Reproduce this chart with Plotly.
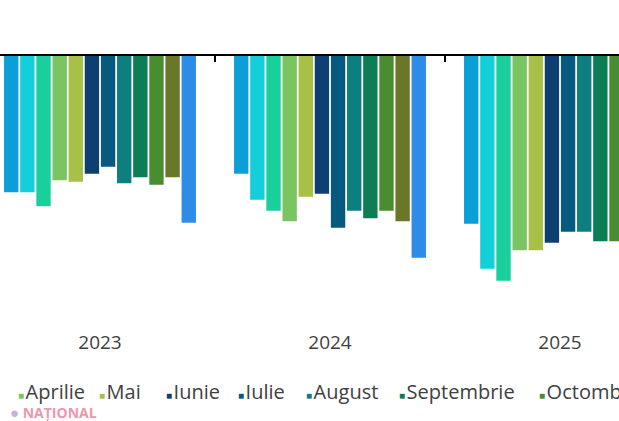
import plotly.graph_objects as go

years = ["2023", "2024", "2025"]
months = ["Ianuarie", "Februarie", "Martie", "Aprilie", "Mai", "Iunie", "Iulie",
          "August", "Septembrie", "Octombrie", "Noiembrie", "Decembrie"]
colors = ["#0a9fd6", "#12cfd9", "#19cf9b", "#7ac462", "#a8bf48", "#0d3f72",
          "#065a7f", "#0d7f80", "#0c7d55", "#4a8c30", "#6a7628", "#2d8ce8"]

# monthly values per year (no data yet for Nov/Dec 2025)
val_2023 = [-409, -409, -451, -373, -377, -353, -332, -382, -364, -386, -364, -500]
val_2024 = [-353, -431, -464, -496, -422, -413, -515, -464, -487, -464, -496, -605]
val_2025 = [-503, -638, -674, -583, -583, -560, -527, -527, -556, -556, None, None]

# the picture is a crop of a wider chart: only these legend entries are in view
legend_months = months[3:10]
legend_px = [16, 97, 164, 236, 304, 397, 537]

W, H = 619, 421

fig = go.Figure()
for i, month in enumerate(months):
    fig.add_trace(go.Bar(
        x=years,
        y=[val_2023[i], val_2024[i], val_2025[i]],
        name=month,
        marker_color=colors[i],
        marker_line_width=0,
        showlegend=False,
    ))

# empty trace on the top axis, which carries the zero line and the group ticks
fig.add_trace(go.Scatter(x=years, y=[None] * len(years), xaxis="x2",
                         mode="none", showlegend=False, hoverinfo="skip"))

fig.update_layout(
    width=W, height=H,
    margin=dict(l=0, r=0, t=56, b=95, autoexpand=False),
    barmode="group", bargap=0.158, bargroupgap=0.11,
    plot_bgcolor="white", paper_bgcolor="white",
    font=dict(family="Open Sans", size=19, color="#404040"),
    xaxis=dict(range=[-100 / 230, 519 / 230], showgrid=False, ticks="",
               showline=False, zeroline=False, ticklabelstandoff=3),
    xaxis2=dict(overlaying="x", matches="x", side="top", anchor="y",
                showline=True, linecolor="black", linewidth=1.5,
                ticks="inside", tickson="boundaries", ticklen=6,
                tickcolor="black", tickwidth=1.5,
                showticklabels=False, showgrid=False),
    yaxis=dict(range=[-810, 0], visible=False),
)

for month, px in zip(legend_months, legend_px):
    c = colors[months.index(month)]
    fig.add_annotation(
        text=f"<span style='color:{c};font-size:10px'>■</span>"
             f"<span style='font-size:6px'> </span>{month}",
        x=px / W, y=-0.244, xref="paper", yref="paper",
        xanchor="left", yanchor="middle", showarrow=False,
        font=dict(size=20, color="#404040"),
    )

fig.add_annotation(
    text="<span style='color:#c3b2d6;font-size:15px'>●</span> <b>NAȚIONAL</b>",
    x=8 / W, y=-0.318, xref="paper", yref="paper",
    xanchor="left", yanchor="middle", showarrow=False,
    font=dict(family="Open Sans", size=14, color="#ec97ae"),
)

# drop the page's default body margin so the figure sits at the window corner
fig.write_html("out.html", config={"displayModeBar": False},
               post_script="document.body.style.margin = '0';")
